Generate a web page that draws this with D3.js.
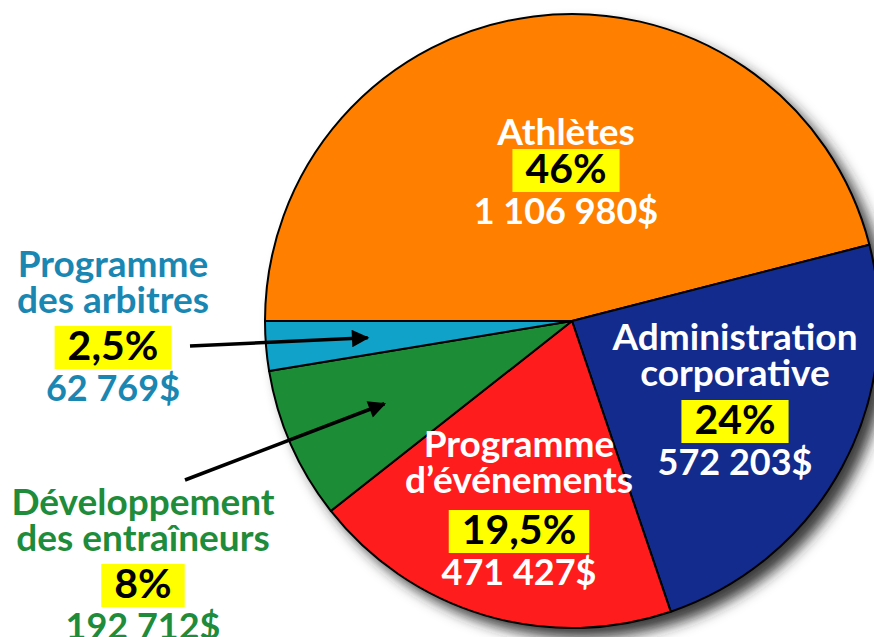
<!DOCTYPE html>
<html>
<head>
<meta charset="utf-8">
<script src="https://cdn.jsdelivr.net/npm/d3@7"></script>
<style>
  body { margin: 0; background: #fff; }
  svg { display: block; font-family: Lato, "Open Sans", sans-serif; font-weight: 700; }
</style>
</head>
<body>
<div id="chart"></div>
<script>
// Budget categories (pie order, clockwise from the left horizontal)
const categories = ["Athlètes", "Administration\ncorporative", "Programme\nd’événements", "Développement\ndes entraîneurs", "Programme\ndes arbitres"];
const amounts = [1106980, 572203, 471427, 192712, 62769];
const percentLabels = ["46%", "24%", "19,5%", "8%", "2,5%"];
const sliceColors = ["#ff7f00", "#132b8c", "#ff1c1c", "#1c8c37", "#10a2c8"];

const width = 874, height = 637;
const cx = 572, cy = 321, radius = 307;

// French style money format: 1 106 980$
const fr = d3.formatLocale({ decimal: ",", thousands: "\u00a0", grouping: [3], currency: ["", "$"] });
const money = fr.format("$,.0f");

const data = categories.map((c, i) => ({ name: c, amount: amounts[i], pct: percentLabels[i], color: sliceColors[i] }));

// where each label block sits (first baseline) and how it is coloured
const labelLayout = [
  { x: 566, y: 145, pctGap: 38, fill: "#fff" },
  { x: 735, y: 350, pctGap: 48, fill: "#fff" },
  { x: 519, y: 457, pctGap: 51, fill: "#fff" },
  { x: 143, y: 515, pctGap: 47, fill: "#1e8c3a" },
  { x: 113, y: 277, pctGap: 47, fill: "#1a87b3" }
];
// arrow tails for the outside labels (index into data)
const arrows = [
  { i: 4, x: 190, y: 346 },
  { i: 3, x: 185, y: 480 }
];

const svg = d3.select("#chart").append("svg")
  .attr("width", width)
  .attr("height", height);

const defs = svg.append("defs");
const shadow = defs.append("filter").attr("id", "shadow")
  .attr("x", "-20%").attr("y", "-20%").attr("width", "140%").attr("height", "140%");
shadow.append("feDropShadow")
  .attr("dx", 10).attr("dy", 10).attr("stdDeviation", 7)
  .attr("flood-color", "#222").attr("flood-opacity", 0.9);

defs.append("marker")
  .attr("id", "head")
  .attr("viewBox", "0 0 10 10")
  .attr("refX", 9).attr("refY", 5)
  .attr("markerWidth", 8).attr("markerHeight", 5)
  .attr("markerUnits", "strokeWidth")
  .attr("orient", "auto")
  .append("path")
  .attr("d", "M0,0 L10,5 L0,10 Z")
  .attr("fill", "#000");

const pie = d3.pie()
  .sort(null)
  .value(d => d.amount)
  .startAngle(-Math.PI / 2)
  .endAngle(Math.PI * 1.5);

const arc = d3.arc().innerRadius(0).outerRadius(radius);
const arrowArc = d3.arc().innerRadius(205).outerRadius(205);

const arcs = pie(data);

const g = svg.append("g").attr("transform", `translate(${cx},${cy})`);

// Shadow disc under the pie
g.append("circle")
  .attr("r", radius)
  .attr("fill", "#fff")
  .attr("filter", "url(#shadow)");

g.selectAll(".slice")
  .data(arcs)
  .enter()
  .append("path")
  .attr("class", "slice")
  .attr("d", arc)
  .attr("fill", d => d.data.color)
  .attr("stroke", "#000")
  .attr("stroke-width", 2)
  .attr("stroke-linejoin", "round");

// Arrows pointing to the thin slices
svg.selectAll(".arrow")
  .data(arrows)
  .enter()
  .append("line")
  .attr("class", "arrow")
  .attr("x1", d => d.x)
  .attr("y1", d => d.y)
  .attr("x2", d => cx + arrowArc.centroid(arcs[d.i])[0])
  .attr("y2", d => cy + arrowArc.centroid(arcs[d.i])[1])
  .attr("stroke", "#000")
  .attr("stroke-width", 3.5)
  .attr("marker-end", "url(#head)");

// Labels
data.forEach(function (d, i) {
  const L = labelLayout[i];
  const block = svg.append("g").attr("text-anchor", "middle");
  const lines = d.name.split("\n");
  lines.forEach(function (line, k) {
    block.append("text")
      .attr("x", L.x)
      .attr("y", L.y + k * 36)
      .attr("font-size", 37)
      .attr("fill", L.fill)
      .text(line);
  });
  const pctY = L.y + (lines.length - 1) * 36 + L.pctGap;
  const box = block.append("rect").attr("fill", "#ffff00");
  const pct = block.append("text")
    .attr("x", L.x)
    .attr("y", pctY)
    .attr("font-size", 41)
    .attr("fill", "#000")
    .text(d.pct);
  const bb = pct.node().getBBox();
  box.attr("x", bb.x - 13)
    .attr("y", pctY - 34)
    .attr("width", bb.width + 26)
    .attr("height", 43);
  block.append("text")
    .attr("x", L.x)
    .attr("y", pctY + 41)
    .attr("font-size", 36)
    .attr("fill", L.fill)
    .text(money(d.amount));
});
</script>
</body>
</html>
